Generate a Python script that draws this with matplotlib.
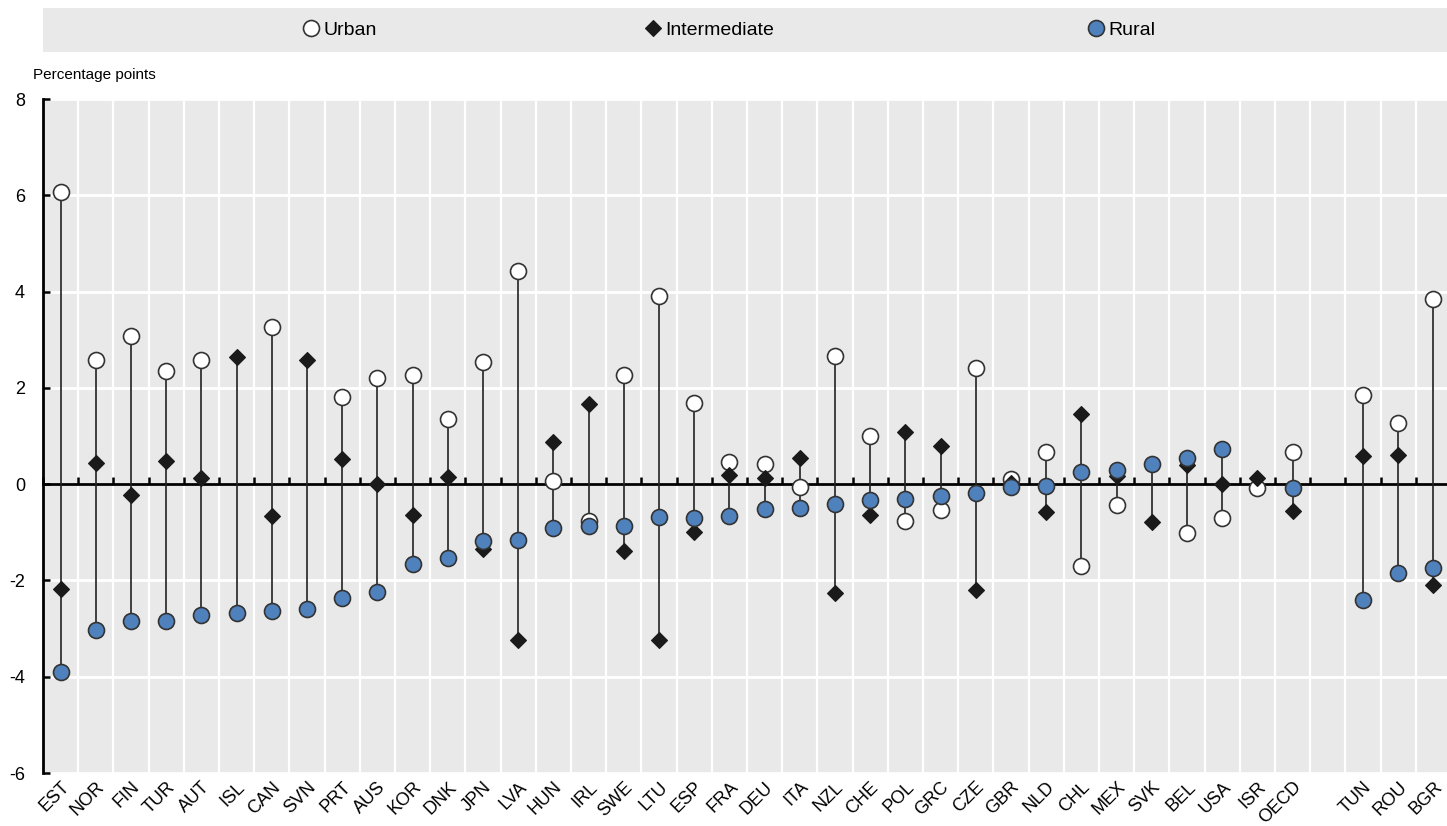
import numpy as np
import matplotlib.pyplot as plt
from matplotlib.patches import Rectangle

plt.rcParams['font.family'] = ['Liberation Sans', 'DejaVu Sans']
plt.rcParams['axes.unicode_minus'] = False

nan = np.nan

# countries, the blank slot goes after OECD
countries = ['EST', 'NOR', 'FIN', 'TUR', 'AUT', 'ISL', 'CAN', 'SVN', 'PRT', 'AUS',
             'KOR', 'DNK', 'JPN', 'LVA', 'HUN', 'IRL', 'SWE', 'LTU', 'ESP', 'FRA',
             'DEU', 'ITA', 'NZL', 'CHE', 'POL', 'GRC', 'CZE', 'GBR', 'NLD', 'CHL',
             'MEX', 'SVK', 'BEL', 'USA', 'ISR', 'OECD', 'TUN', 'ROU', 'BGR']

urban = [6.06, 2.58, 3.08, 2.34, 2.58, nan, 3.27, nan, 1.82, 2.21,
         2.27, 1.35, 2.54, 4.42, 0.07, -0.76, 2.26, 3.91, 1.69, 0.47,
         0.42, -0.05, 2.67, 1.01, -0.76, -0.53, 2.42, 0.10, 0.66, -1.69,
         -0.44, nan, -1.01, -0.70, -0.09, 0.66, 1.86, 1.27, 3.85]

intermediate = [-2.17, 0.44, -0.23, 0.48, 0.12, 2.65, -0.66, 2.58, 0.52, 0.00,
                -0.64, 0.15, -1.35, -3.24, 0.87, 1.67, -1.39, -3.24, -0.99, 0.20,
                0.12, 0.54, -2.26, -0.64, 1.08, 0.79, -2.20, 0.02, -0.58, 1.46,
                0.17, -0.78, 0.40, 0.00, 0.12, -0.56, 0.58, 0.60, -2.10]

rural = [-3.91, -3.02, -2.85, -2.85, -2.71, -2.67, -2.63, -2.60, -2.37, -2.23,
         -1.65, -1.53, -1.19, -1.16, -0.92, -0.87, -0.87, -0.68, -0.71, -0.66,
         -0.52, -0.50, -0.42, -0.33, -0.30, -0.24, -0.19, -0.06, -0.04, 0.26,
         0.30, 0.42, 0.55, 0.74, nan, -0.09, -2.41, -1.84, -1.74]

# x positions with one empty slot after OECD
gap_at = countries.index('OECD') + 1
x = np.array([i if i < gap_at else i + 1 for i in range(len(countries))])
n_slots = len(countries) + 1

blue = '#4f81bd'
bg = '#e9e9e9'

fig = plt.figure(figsize=(14.47, 8.26), dpi=100)
ax = fig.add_axes([43 / 1447, 1 - 773 / 826, 1408 / 1447, 674 / 826])
ax.set_facecolor(bg)

vals = np.array([urban, intermediate, rural])
ax.vlines(x, np.nanmin(vals, axis=0), np.nanmax(vals, axis=0),
          color='#222222', lw=1.2, zorder=3)

ax.plot(x, urban, 'o', ms=11.5, mfc='white', mec='#333333', mew=1.2,
        ls='none', zorder=4, label='Urban')
ax.plot(x, intermediate, 'D', ms=8, mfc='#1a1a1a', mec='#1a1a1a', mew=0.8,
        ls='none', zorder=5, label='Intermediate')
ax.plot(x, rural, 'o', ms=11.5, mfc=blue, mec='#333333', mew=1.2,
        ls='none', zorder=6, label='Rural')

ax.set_xlim(-0.5, n_slots - 0.5)
ax.set_ylim(-6, 8)

bounds = np.arange(-0.5, n_slots, 1.0)
ax.set_xticks(x, countries)
ax.set_xticks(bounds, minor=True)
ax.tick_params(axis='x', which='both', length=0, labelsize=13, pad=4)
for lab in ax.get_xticklabels():
    lab.set_rotation(45)
    lab.set_ha('right')
    lab.set_va('top')
    lab.set_rotation_mode('anchor')

ax.set_yticks(np.arange(-6, 9, 2))
ax.tick_params(axis='y', direction='in', length=5, width=1.8, labelsize=13, pad=13)

ax.grid(which='minor', axis='x', color='white', lw=1.6)
ax.grid(which='major', axis='y', color='white', lw=2)
ax.set_axisbelow(True)

for s in ['top', 'right', 'bottom']:
    ax.spines[s].set_visible(False)
ax.spines['left'].set_linewidth(2)

# zero line with small ticks at the category boundaries
zero = ax.secondary_xaxis(0, transform=ax.transData)
zero.set_xticks(bounds, labels=[])
zero.tick_params(direction='in', length=5, width=1.8)
zero.spines['bottom'].set_linewidth(2)
zero.set_zorder(2.5)

fig.text(33 / 1447, 1 - 75 / 826, 'Percentage points', fontsize=11,
         ha='left', va='center')

# legend band
fig.patches.append(Rectangle((43 / 1447, 1 - 52 / 826), 1404 / 1447, 44 / 826,
                             transform=fig.transFigure, facecolor=bg,
                             edgecolor='none', zorder=0))
handles = ax.get_lines()
for h, xpos in zip(handles, [303, 645, 1088]):
    fig.legend([h], [h.get_label()], loc='center left',
               bbox_to_anchor=(xpos / 1447, 1 - 30 / 826), frameon=False,
               fontsize=14, handlelength=0.8, handletextpad=0.25,
               borderpad=0, borderaxespad=0)

fig.savefig('out.png', dpi=100)
